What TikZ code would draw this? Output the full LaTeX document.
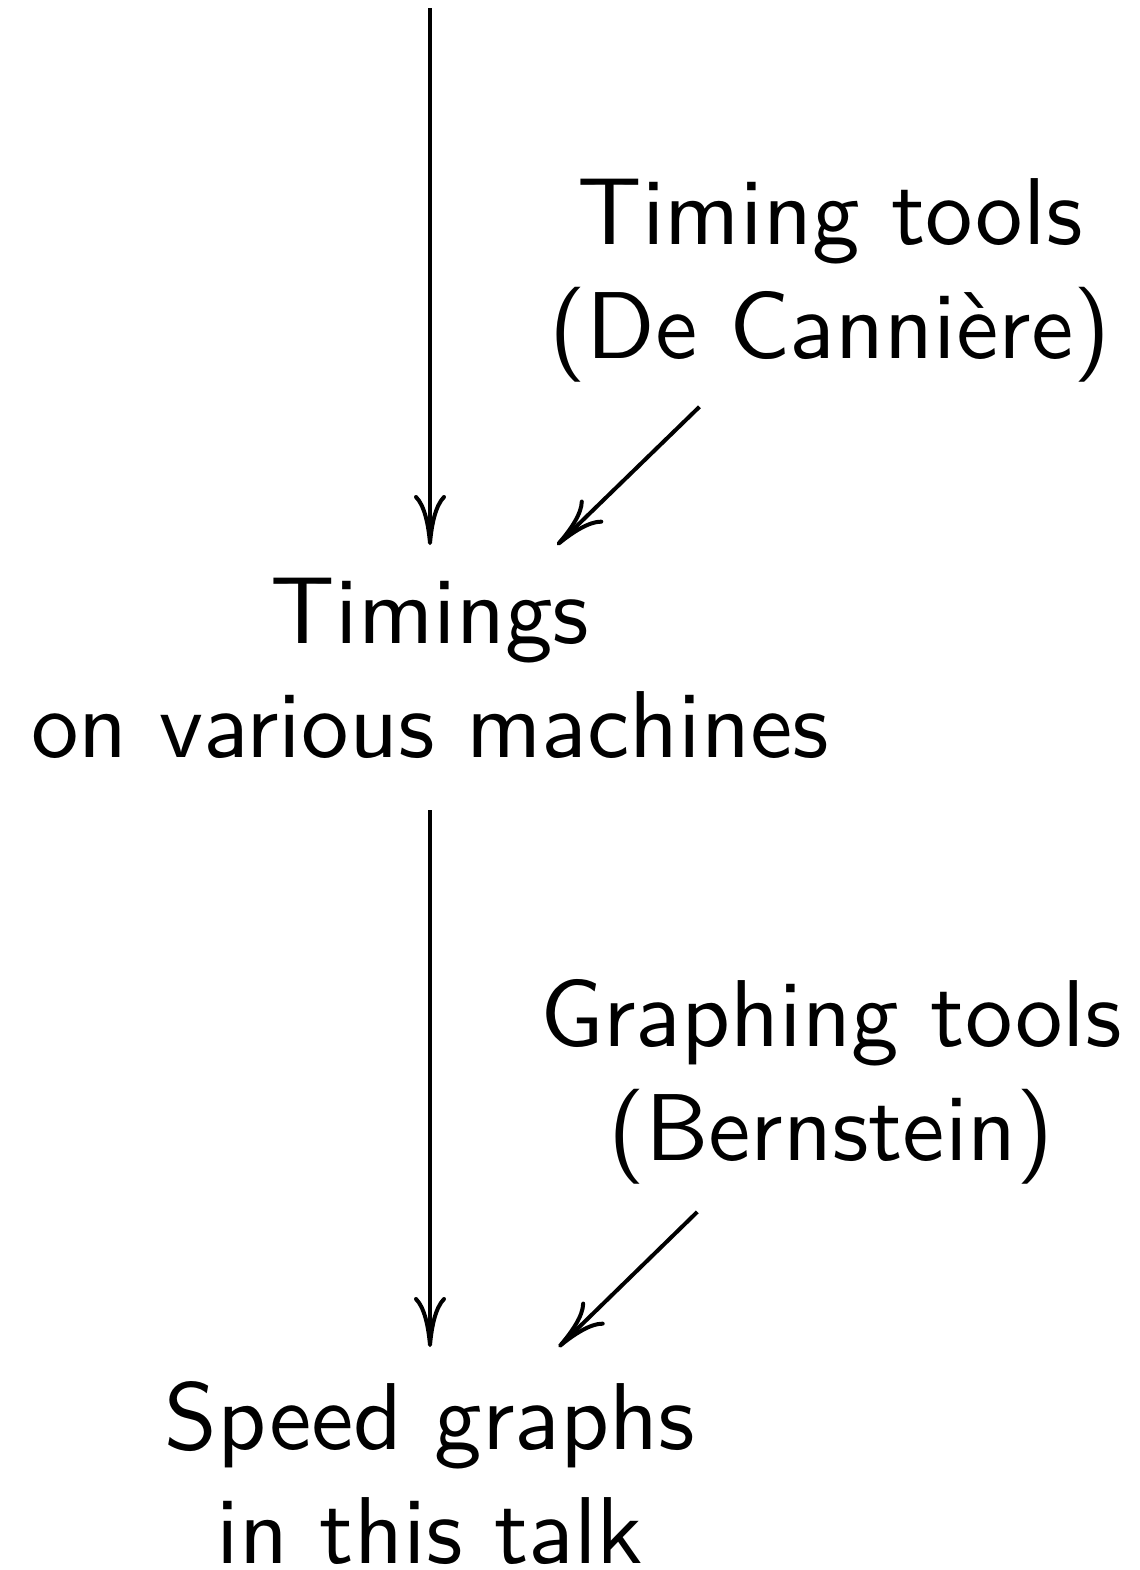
\documentclass[tikz,border=0pt]{standalone}
\usetikzlibrary{arrows.meta}
\begin{document}
\begin{tikzpicture}[x=0.5pt,y=-0.5pt,
  label/.style={align=center, inner sep=0pt, scale=4.75, transform shape,
    font=\sffamily\fontsize{10}{12}\selectfont},
  flow/.style={line width=2pt, -{To[length=25pt,width=16pt]}}]
\useasboundingbox (0,0) rectangle (1140,1570);

% entries of the chain
\coordinate (src) at (430,8);
\node[label] (tt) at (830,280)    {Timing tools\\(De Cannière)};
\node[label] (tm) at (430,668.5)  {Timings\\on various machines};
\node[label] (gt) at (831,1081.5) {Graphing tools\\(Bernstein)};
\node[label] (sg) at (430,1472.5) {Speed graphs\\in this talk};

% connectors
\draw[flow, shorten >=61.75pt] (src) -- (tm.center);
\draw[flow, shorten <=91pt, shorten >=88.6pt] (tt.center) -- (tm.center);
\draw[flow, shorten <=70.75pt, shorten >=62.75pt] (tm.center) -- (sg.center);
\draw[flow, shorten <=93.4pt, shorten >=89.8pt] (gt.center) -- (sg.center);
\end{tikzpicture}
\end{document}
